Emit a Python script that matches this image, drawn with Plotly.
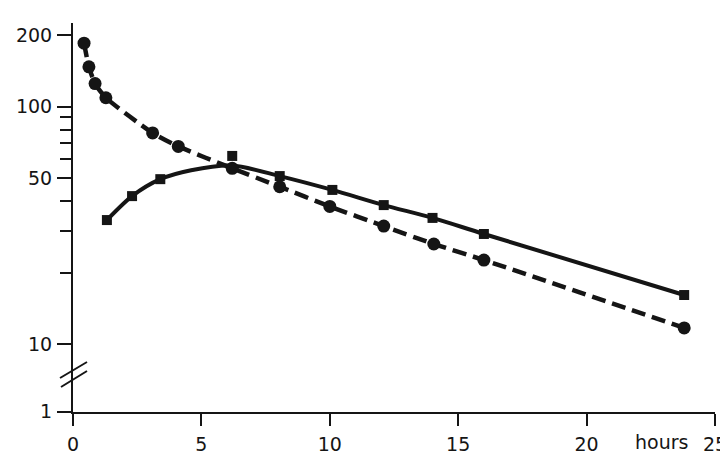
import plotly.graph_objects as go

# Dashed series (circles)
circle_hours = [0.43, 0.62, 0.86, 1.28, 3.1, 4.1, 6.2, 8.05, 10.0, 12.1, 14.05, 16.0, 23.8]
circle_conc = [185, 147, 125, 109, 77.5, 68, 55, 46, 38, 31.4, 26.4, 22.6, 11.7]

# Solid series (squares)
square_hours = [1.32, 2.3, 3.4, 6.2, 8.05, 10.1, 12.1, 14.0, 16.0, 23.8]
square_conc = [33.3, 42, 49.5, 62, 51, 44.6, 38.5, 34, 29.1, 16.1]

# Solid fitted curve
curve_hours = [1.32, 2.3, 3.4, 4.6, 6.2, 8.05, 10.1, 12.1, 14.0, 16.0, 23.8]
curve_conc = [33.3, 42, 49.5, 54, 56.5, 51, 44.6, 38.5, 34, 29.1, 16.1]

x_ticks = [0, 5, 10, 15, 20, 25]
y_major = [10, 50, 100, 200]
y_minor = [20, 30, 40, 60, 70, 80, 90]
y_low = [1]

INK = "#151515"
FONT = "DejaVu Sans"
FS = 19

fig = go.Figure()

fig.add_trace(go.Scatter(
    x=curve_hours, y=curve_conc, mode="lines",
    line=dict(color=INK, width=4, shape="spline", smoothing=0.8),
    hoverinfo="skip", showlegend=False))
fig.add_trace(go.Scatter(
    x=square_hours, y=square_conc, mode="markers",
    marker=dict(symbol="square", size=10, color=INK),
    showlegend=False))
fig.add_trace(go.Scatter(
    x=circle_hours, y=circle_conc, mode="lines+markers",
    line=dict(color=INK, width=4.5, dash="14px,7px", shape="spline", smoothing=0.6),
    marker=dict(symbol="circle", size=13, color=INK),
    showlegend=False))
# invisible anchor trace so the lower (broken) axis segment is drawn
fig.add_trace(go.Scatter(
    x=[x_ticks[0]], y=y_low, yaxis="y2", mode="markers",
    marker=dict(size=1, opacity=0), hoverinfo="skip", showlegend=False))

# page body has an 8px margin, so the figure is sized to fit the 728x455 window
fig.update_layout(
    width=720, height=447,
    margin=dict(l=65, r=13, t=15, b=43, autoexpand=False),
    paper_bgcolor="white", plot_bgcolor="white",
    font=dict(family=FONT, size=FS, color=INK),
    xaxis=dict(
        range=[0, 25], anchor="y2", automargin=False,
        tickmode="array", tickvals=x_ticks, ticktext=[str(v) for v in x_ticks],
        ticks="outside", ticklen=12, tickwidth=2, tickcolor=INK,
        ticklabelstandoff=2,
        showline=True, linewidth=2, linecolor=INK,
        showgrid=False, zeroline=False),
    yaxis=dict(
        type="log", domain=[0.095, 1], range=[0.870, 2.352], anchor="x",
        automargin=False,
        tickmode="array", tickvals=y_major, ticktext=[str(v) for v in y_major],
        ticks="outside", ticklen=14, tickwidth=2, tickcolor=INK,
        ticklabelstandoff=1,
        minor=dict(tickmode="array", tickvals=y_minor, ticks="outside",
                   ticklen=11, tickwidth=2, tickcolor=INK, showgrid=False),
        showline=True, linewidth=2, linecolor=INK,
        showgrid=False, zeroline=False),
    yaxis2=dict(
        type="log", domain=[0, 0.095], range=[-0.001, 0.155], anchor="x",
        automargin=False,
        tickmode="array", tickvals=y_low, ticktext=[str(v) for v in y_low],
        ticks="outside", ticklen=14, tickwidth=2, tickcolor=INK,
        ticklabelstandoff=1,
        showline=True, linewidth=2, linecolor=INK,
        showgrid=False, zeroline=False),
    annotations=[dict(
        x=22.9, y=0, xref="x", yref="paper", text="hours",
        showarrow=False, yanchor="middle", yshift=-30,
        font=dict(family=FONT, size=FS, color=INK))],
    shapes=[
        dict(type="line", xref="paper", yref="paper",
             x0=-0.0202, y0=0.0874, x1=0.0218, y1=0.1285,
             line=dict(color=INK, width=2)),
        dict(type="line", xref="paper", yref="paper",
             x0=-0.0187, y0=0.0643, x1=0.0218, y1=0.1054,
             line=dict(color=INK, width=2)),
    ],
)

fig.write_html("out.html")
